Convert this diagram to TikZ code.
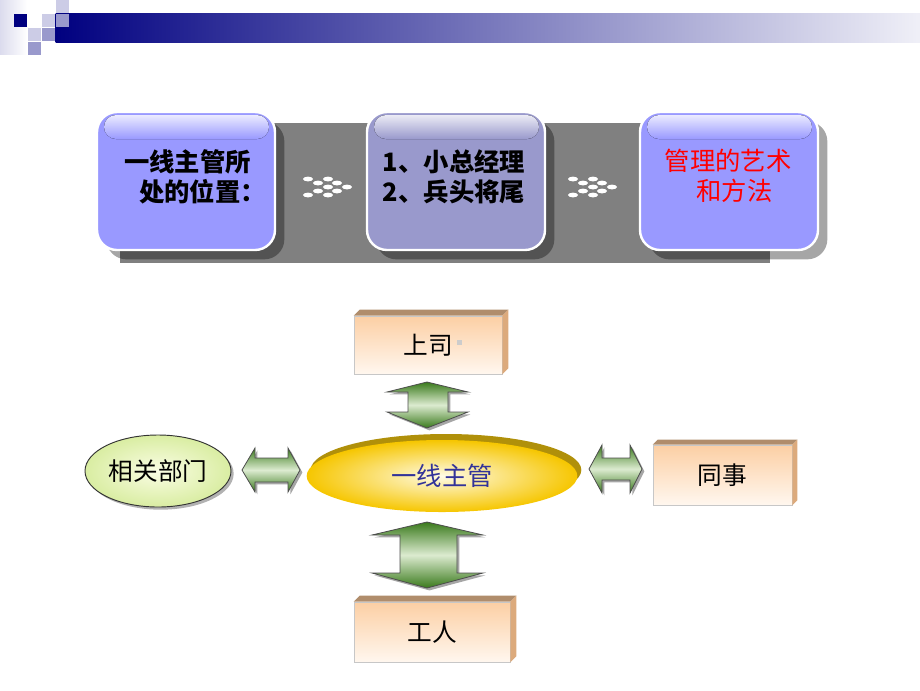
\documentclass[tikz,border=0pt]{standalone}
\usepackage{fontspec}
\setmainfont{Noto Sans CJK SC}
\usetikzlibrary{shapes.geometric,shadows}
\definecolor{navy}{HTML}{000080}
\definecolor{lav}{HTML}{CCCCE6}
\definecolor{midlav}{HTML}{9999CC}
\definecolor{peri}{HTML}{9999FF}
\definecolor{bandgray}{HTML}{808080}
\definecolor{peach}{HTML}{FCCFA4}
\definecolor{peachlow}{HTML}{FFF7EF}
\definecolor{topface}{HTML}{B08D6C}
\definecolor{sideface}{HTML}{DCAA7C}
\definecolor{gdark}{HTML}{3A7A1C}
\definecolor{glight}{HTML}{DCEBD0}
\definecolor{gold}{HTML}{F6C600}
\definecolor{goldin}{HTML}{FFFBE6}
\definecolor{rim}{HTML}{B0900A}
\definecolor{leadtxt}{HTML}{333399}
\definecolor{deptin}{HTML}{FAFDE4}
\definecolor{deptout}{HTML}{D9EDA2}
\begin{document}
\begin{tikzpicture}[x=0.75pt,y=-0.75pt,
  topbox/.style={draw=white, line width=1.8pt, rounded corners=15pt,
    minimum width=133.5pt, minimum height=103.5pt, inner sep=0pt,
    drop shadow={shadow xshift=7pt, shadow yshift=-7pt, opacity=0.35, fill=black}},
  gloss/.style={rounded corners=9pt, top color=white!80!peri, bottom color=peri},
  toptext/.style={font=\fontsize{19}{22.5}\selectfont, inner sep=0pt},
  frontface/.style={draw=black!22, line width=0.5pt, top color=peach, bottom color=peachlow,
    inner sep=0pt, font=\fontsize{18.5}{22}\selectfont},
  garrow/.style={draw=black!70, line width=0.6pt, top color=gdark, bottom color=gdark, middle color=glight,
    drop shadow={shadow xshift=1.8pt, shadow yshift=-1.8pt, opacity=0.35, fill=black}},
  dot/.style={fill=white}
]
\useasboundingbox (0,0) rectangle (920,690);
% ---------- header ----------
\shade[left color=lav!70, right color=white] (0,0) rectangle (27,54);
\shade[left color=navy, right color=white!94!navy] (55.5,13.5) rectangle (920,42);
\fill[navy]   (13.5,13.5) rectangle (27.3,27.3);
\fill[lav]    (41.7,13.5) rectangle (55.2,27.3);
\fill[lav]    (55.7,0)    rectangle (69,13);
\fill[midlav] (55.7,13.5) rectangle (69,27.3);
\fill[lav]    (28,28)     rectangle (41.2,41.2);
\fill[midlav] (41.7,28)   rectangle (55.2,41.2);
\fill[midlav] (28,41.7)   rectangle (41.2,55);
% ---------- top panel ----------
\fill[bandgray] (120,123) rectangle (770,263);
\node[topbox, fill=peri]   (b1) at (186,181) {};
\node[topbox, fill=midlav] (b2) at (456,181) {};
\node[topbox, fill=peri]   (b3) at (729,181) {};
\fill[gloss] (104,115) rectangle (269,139);
\fill[gloss, top color=white!80!midlav, bottom color=midlav] (374,115) rectangle (539,139);
\fill[gloss] (647,115) rectangle (812,139);
\node[toptext, align=left, font=\fontsize{19}{22.5}\selectfont\bfseries] (t1) at (195,177)
  {一线主管所\\\hspace{0.6em}处的位置：};
\node[toptext, align=left, font=\fontsize{19}{22.5}\selectfont\bfseries] (t2) at (454,177)
  {1、小总经理\\2、兵头将尾};
\node[toptext, align=center, text=red] (t3) at (728,176)
  {管理的艺术\\\hspace{0.5em}和方法};
% dots between boxes
\foreach \dx in {0,265}{
  \foreach \px/\py in {308/179,328/179,318/183,337/183,328/187,347/187,318/191,337/191,308/195,328/195}{
    \fill[dot] (\px+\dx,\py) ellipse [x radius=5, y radius=2.4];
  }
}
% ---------- bottom diagram ----------
% boss box
\node[frontface, minimum width=111pt, minimum height=43.5pt] (boss) at (428,345) {上司};
\fill[topface] (boss.north west) -- ++(6,-6) -- ([shift={(6,-6)}]boss.north east) -- (boss.north east) -- cycle;
\fill[sideface] (boss.north east) -- ++(6,-6) -- ([shift={(6,-6)}]boss.south east) -- (boss.south east) -- cycle;
\fill[black!20] (457,340) rectangle (462,345);
% colleague box
\node[frontface, minimum width=104.25pt, minimum height=45pt] (peer) at (722.5,475) {同事};
\fill[topface] (peer.north west) -- ++(5,-5) -- ([shift={(5,-5)}]peer.north east) -- (peer.north east) -- cycle;
\fill[sideface] (peer.north east) -- ++(5,-5) -- ([shift={(5,-5)}]peer.south east) -- (peer.south east) -- cycle;
% worker box
\node[frontface, minimum width=117pt, minimum height=45pt] (work) at (432,632) {工人};
\fill[topface] (work.north west) -- ++(6,-6) -- ([shift={(6,-6)}]work.north east) -- (work.north east) -- cycle;
\fill[sideface] (work.north east) -- ++(6,-6) -- ([shift={(6,-6)}]work.south east) -- (work.south east) -- cycle;
% central ellipse
\node[ellipse, fill=rim, minimum width=203pt, minimum height=54pt, inner sep=0pt] (rimnode) at (446,470) {};
\node[ellipse, inner color=goldin, outer color=gold, minimum width=203pt, minimum height=54pt, inner sep=0pt,
  text=leadtxt, font=\fontsize{19}{22}\selectfont] (lead) at (442,476) {一线主管};
% department ellipse
\node[ellipse, draw=black!80, line width=0.7pt, inner color=deptin, outer color=deptout,
  minimum width=109.5pt, minimum height=54pt, inner sep=0pt, font=\fontsize{18.5}{22}\selectfont,
  drop shadow={shadow xshift=2pt, shadow yshift=-2pt, opacity=0.3, fill=black}] (dept) at (158,471) {相关部门};
% arrows
\path[garrow] (427,382) -- (468,392) -- (448,392) -- (448,412) -- (468,412) -- (427,428)
  -- (387,412) -- (408,412) -- (408,392) -- (387,392) -- cycle;
\path[garrow] (427,522) -- (483,535) -- (457,535) -- (457,573) -- (483,573) -- (427,588)
  -- (372,573) -- (400,573) -- (400,535) -- (372,535) -- cycle;
\path[garrow] (242,470) -- (255,448) -- (255,458) -- (288,458) -- (288,448) -- (300,470)
  -- (288,492) -- (288,482) -- (255,482) -- (255,492) -- cycle;
\path[garrow] (589,469) -- (602,445) -- (602,458) -- (630,458) -- (630,445) -- (642,469)
  -- (630,493) -- (630,480) -- (602,480) -- (602,493) -- cycle;
\end{tikzpicture}
\end{document}
